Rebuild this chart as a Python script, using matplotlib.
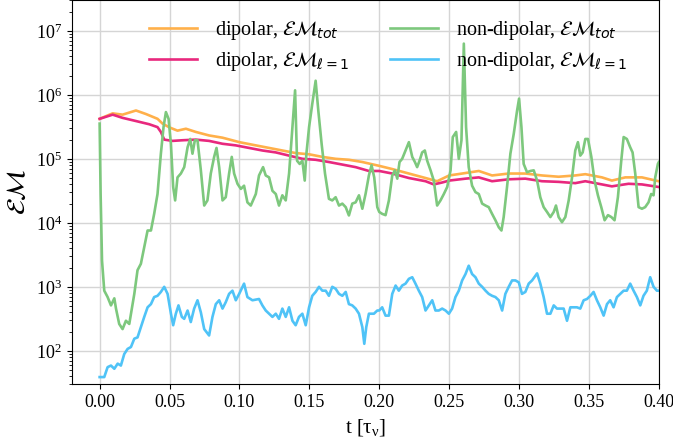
import numpy as np
import matplotlib
matplotlib.use("Agg")
import matplotlib.pyplot as plt

plt.rcParams['font.family'] = ['Liberation Serif', 'DejaVu Serif']
plt.rcParams['mathtext.fontset'] = 'dejavusans'

# ---------------- data ----------------
# dipolar, EM_tot
dip_tot_t = [0.0, 0.0093, 0.0164, 0.026, 0.0331, 0.0414, 0.045, 0.05, 0.0557, 0.0617,
             0.0688, 0.0783, 0.0879, 0.1, 0.1117, 0.1212, 0.1307, 0.1402, 0.15, 0.1593,
             0.1688, 0.1783, 0.1879, 0.2, 0.2093, 0.2212, 0.2331, 0.2414, 0.25, 0.2593,
             0.2712, 0.2807, 0.2926, 0.3045, 0.3164, 0.3283, 0.3402, 0.3474, 0.3593, 0.3664,
             0.376, 0.3879, 0.3998]
dip_tot_log = [5.625, 5.71, 5.69, 5.755, 5.70, 5.625, 5.55, 5.49, 5.44, 5.47,
               5.42, 5.365, 5.33, 5.26, 5.21, 5.17, 5.13, 5.09, 5.07, 5.03,
               5.0, 4.985, 4.95, 4.89, 4.84, 4.77, 4.70, 4.65, 4.74, 4.77,
               4.81, 4.74, 4.77, 4.77, 4.74, 4.72, 4.74, 4.76, 4.71, 4.66,
               4.71, 4.71, 4.65]

# dipolar, EM_l=1
dip_l1_t = [0.0, 0.0093, 0.0164, 0.026, 0.0355, 0.0414, 0.0438, 0.0462, 0.0521, 0.0593,
            0.0688, 0.0783, 0.0879, 0.0974, 0.1069, 0.1164, 0.126, 0.1355, 0.145, 0.1545,
            0.164, 0.1736, 0.1831, 0.1926, 0.2, 0.2093, 0.2212, 0.2331, 0.239, 0.245,
            0.25, 0.2617, 0.2712, 0.2807, 0.2926, 0.3045, 0.3164, 0.3283, 0.3402, 0.3474,
            0.3593, 0.3664, 0.3783, 0.3879, 0.3998]
dip_l1_log = [5.625, 5.69, 5.64, 5.59, 5.54, 5.495, 5.42, 5.30, 5.28, 5.29,
              5.30, 5.28, 5.235, 5.21, 5.17, 5.13, 5.10, 5.05, 5.0, 4.985,
              4.95, 4.91, 4.87, 4.81, 4.81, 4.77, 4.70, 4.65, 4.60, 4.63,
              4.66, 4.69, 4.71, 4.65, 4.68, 4.69, 4.65, 4.64, 4.62, 4.65,
              4.60, 4.57, 4.61, 4.60, 4.56]

# non-dipolar, EM_tot
ndip_tot_t = [0.0, 0.0007, 0.0017, 0.0033, 0.0057, 0.0081, 0.0105, 0.0117, 0.014, 0.0164,
              0.0188, 0.0212, 0.0224, 0.0248, 0.0271, 0.0295, 0.0319, 0.0343, 0.0367, 0.039,
              0.0414, 0.0438, 0.0457, 0.0474, 0.0493, 0.051, 0.0526, 0.054, 0.0557, 0.0581,
              0.0605, 0.0629, 0.0648, 0.0664, 0.0681, 0.07, 0.0724, 0.0748, 0.0771, 0.0795,
              0.0819, 0.0836, 0.0855, 0.0879, 0.0902, 0.0926, 0.0945, 0.0962, 0.0986, 0.101,
              0.1033, 0.1057, 0.1081, 0.1117, 0.114, 0.1169, 0.1188, 0.1212, 0.1236, 0.126,
              0.1283, 0.1307, 0.1331, 0.1355, 0.1379, 0.1398, 0.1412, 0.1431, 0.145, 0.1467,
              0.1479, 0.1498, 0.1521, 0.1545, 0.1564, 0.1588, 0.1612, 0.164, 0.1664, 0.1688,
              0.1712, 0.1736, 0.176, 0.1783, 0.1807, 0.1831, 0.1855, 0.1879, 0.1902, 0.1926,
              0.1945, 0.1964, 0.1986, 0.2,
              0.2021, 0.2045, 0.2069, 0.2093, 0.2112, 0.2129, 0.2145, 0.2164, 0.2188, 0.2212,
              0.2236, 0.2255, 0.2271, 0.2288, 0.2307, 0.2326, 0.2343, 0.2367, 0.239, 0.2414,
              0.2438, 0.2462, 0.2486, 0.251, 0.2526, 0.255, 0.2569, 0.2588, 0.2605, 0.2621,
              0.264, 0.2664, 0.2688, 0.2712, 0.2736, 0.276, 0.2783, 0.2807, 0.2831, 0.2855,
              0.2874, 0.289, 0.2914, 0.2938, 0.2962, 0.2986, 0.3, 0.3017, 0.3033, 0.3057,
              0.3081, 0.3105, 0.3129, 0.3152, 0.3176, 0.32, 0.3224, 0.3248, 0.3264, 0.3283,
              0.3307, 0.3331, 0.3355, 0.3379, 0.3402, 0.3421, 0.3438, 0.3455, 0.3474, 0.3493,
              0.3517, 0.354, 0.3564, 0.3588, 0.3612, 0.3636, 0.366, 0.3683, 0.3707, 0.3731,
              0.3748, 0.3771, 0.3795, 0.3812, 0.3831, 0.3855, 0.3879, 0.3902, 0.3926, 0.3945,
              0.3962, 0.3974, 0.3993, 0.4]
ndip_tot_log = [5.55, 4.45, 3.41, 2.94, 2.84, 2.71, 2.82, 2.66, 2.42, 2.34,
                2.47, 2.42, 2.58, 2.89, 3.26, 3.36, 3.62, 3.88, 3.88, 4.14,
                4.45, 5.08, 5.495, 5.73, 5.625, 5.23, 4.56, 4.35, 4.71, 4.77,
                4.87, 5.18, 5.31, 5.08, 5.29, 5.29, 4.82, 4.27, 4.35, 4.77,
                5.03, 5.17, 4.87, 4.35, 4.40, 4.77, 5.03, 4.77, 4.61, 4.53,
                4.58, 4.32, 4.27, 4.45, 4.74, 4.87, 4.74, 4.71, 4.50, 4.45,
                4.27, 4.43, 4.35, 4.77, 5.50, 6.07, 4.97, 4.92, 4.97, 4.66,
                5.08, 5.495, 5.86, 6.22, 5.755, 5.23, 4.77, 4.375, 4.35, 4.40,
                4.27, 4.30, 4.245, 4.115, 4.30, 4.32, 4.43, 4.22, 4.45, 4.74,
                4.90, 4.71, 4.245, 4.17,
                4.14, 4.12, 4.35, 4.74, 4.82, 4.69, 4.95, 5.0, 5.13, 5.26,
                5.03, 4.95, 4.87, 4.97, 5.10, 5.13, 4.97, 4.82, 4.66, 4.27,
                4.35, 4.45, 4.56, 4.82, 5.34, 5.42, 5.0, 5.29, 6.80, 5.495,
                4.87, 4.58, 4.48, 4.45, 4.30, 4.27, 4.245, 4.14, 4.04, 3.93,
                3.88, 4.09, 4.56, 5.08, 5.39, 5.755, 5.94, 5.495, 4.92, 4.79,
                4.81, 4.82, 4.66, 4.40, 4.245, 4.17, 4.09, 4.17, 4.27, 4.09,
                4.01, 4.09, 4.35, 4.71, 5.13, 5.26, 5.05, 5.10, 5.31, 5.31,
                5.03, 4.66, 4.43, 4.245, 4.04, 4.12, 4.09, 4.04, 4.40, 4.97,
                5.34, 5.31, 5.18, 5.10, 4.77, 4.245, 4.22, 4.245, 4.32, 4.45,
                4.43, 4.71, 4.92, 4.95]

# non-dipolar, EM_l=1
ndip_l1_t = [0.0, 0.0033, 0.0057, 0.0081, 0.0105, 0.0129, 0.0152, 0.0176, 0.02, 0.0224,
             0.0248, 0.0271, 0.0295, 0.0319, 0.0343, 0.0367, 0.039, 0.0414, 0.0438, 0.0462,
             0.0486, 0.051, 0.0526, 0.0545, 0.0564, 0.0588, 0.0605, 0.0629, 0.0652, 0.0676,
             0.07, 0.0724, 0.0748, 0.0783, 0.0807, 0.0831, 0.0855, 0.0879, 0.0902, 0.0926,
             0.095, 0.0974, 0.0998, 0.1033, 0.1057, 0.1093, 0.114, 0.1164, 0.1188, 0.1212,
             0.1236, 0.126, 0.1283, 0.1307, 0.1331, 0.1355, 0.1379, 0.1402, 0.1426, 0.145,
             0.1474, 0.1498, 0.1521, 0.1545, 0.1569, 0.1593, 0.1617, 0.164, 0.1664, 0.1688,
             0.1712, 0.1736, 0.176, 0.1783, 0.1807, 0.1831, 0.1855, 0.1879, 0.1893, 0.1907,
             0.1926, 0.1962, 0.1986,
             0.2, 0.2021, 0.2045, 0.2069, 0.2093, 0.2117, 0.214, 0.2164, 0.2188, 0.2212,
             0.2236, 0.2259, 0.2283, 0.2307, 0.2331, 0.2355, 0.2379, 0.2402, 0.2426, 0.245,
             0.2474, 0.2498, 0.2521, 0.2545, 0.2569, 0.2593, 0.2617, 0.264, 0.2664, 0.2688,
             0.2712, 0.2736, 0.276, 0.2783, 0.2807, 0.2831, 0.2855, 0.2879, 0.2902, 0.2926,
             0.295, 0.2974, 0.2998, 0.3021, 0.3045, 0.3069, 0.3093, 0.3129, 0.3152, 0.3176,
             0.32, 0.3224, 0.3248, 0.3271, 0.3295, 0.3319, 0.3343, 0.3367, 0.339, 0.3414,
             0.3438, 0.3462, 0.3486, 0.351, 0.3533, 0.3557, 0.3581, 0.3605, 0.3629, 0.3652,
             0.3676, 0.37, 0.3724, 0.3748, 0.3771, 0.3795, 0.3819, 0.3843, 0.3867, 0.389,
             0.3914, 0.3938, 0.3962, 0.3986, 0.4]
ndip_l1_log = [1.59, 1.59, 1.745, 1.77, 1.72, 1.80, 1.77, 1.95, 2.03, 2.06,
               2.19, 2.21, 2.37, 2.53, 2.68, 2.73, 2.84, 2.86, 2.92, 3.0,
               2.89, 2.58, 2.40, 2.58, 2.71, 2.53, 2.50, 2.63, 2.45, 2.66,
               2.79, 2.60, 2.34, 2.24, 2.53, 2.73, 2.79, 2.66, 2.76, 2.89,
               2.94, 2.79, 2.89, 3.05, 2.84, 2.79, 2.81, 2.71, 2.63, 2.58,
               2.53, 2.58, 2.50, 2.66, 2.53, 2.68, 2.47, 2.40, 2.53, 2.58,
               2.40, 2.68, 2.86, 2.92, 3.0, 2.94, 2.94, 2.86, 3.0, 2.97,
               2.89, 2.86, 2.92, 2.73, 2.71, 2.66, 2.58, 2.37, 2.11, 2.37,
               2.58, 2.58, 2.63,
               2.63, 2.68, 2.55, 2.55, 2.89, 3.02, 2.94, 3.02, 3.05, 3.125,
               3.15, 3.05, 2.94, 2.84, 2.63, 2.71, 2.79, 2.63, 2.63, 2.66,
               2.63, 2.58, 2.66, 2.84, 2.94, 3.10, 3.20, 3.33, 3.20, 3.15,
               3.05, 3.0, 2.94, 2.89, 2.86, 2.84, 2.79, 2.63, 2.89, 3.0,
               3.10, 3.10, 3.07, 2.89, 2.92, 3.05, 3.10, 3.21, 3.05, 2.84,
               2.58, 2.58, 2.71, 2.66, 2.66, 2.66, 2.47, 2.68, 2.68, 2.68,
               2.66, 2.79, 2.81, 2.86, 2.92, 2.79, 2.68, 2.55, 2.73, 2.79,
               2.68, 2.84, 2.89, 2.94, 2.94, 3.05, 2.94, 2.84, 2.71, 2.86,
               2.94, 3.15, 3.0, 2.94, 2.94]

series_labels = [r'dipolar, $\mathcal{EM}_{tot}$',
                 r'dipolar, $\mathcal{EM}_{\ell=1}$',
                 r'non-dipolar, $\mathcal{EM}_{tot}$',
                 r'non-dipolar, $\mathcal{EM}_{\ell=1}$']
series_colors = ['#FFB04A', '#E8287D', '#7DC87D', '#4FC3F7']

x_ticks = [0.00, 0.05, 0.10, 0.15, 0.20, 0.25, 0.30, 0.35, 0.40]

# ---------------- plot ----------------
fig = plt.figure(figsize=(6.73, 4.45), dpi=100)
ax = fig.add_axes([0.1065, 0.1364, 0.8725, 0.8630])

data = [(dip_tot_t, dip_tot_log), (dip_l1_t, dip_l1_log),
        (ndip_tot_t, ndip_tot_log), (ndip_l1_t, ndip_l1_log)]
lines = []
for (tt, lv), lab, col in zip(data, series_labels, series_colors):
    ln, = ax.plot(np.asarray(tt), 10.0 ** np.asarray(lv), color=col, lw=1.9, label=lab)
    lines.append(ln)

ax.set_yscale('log')
ax.set_xlim(-0.02, 0.40)
ax.set_ylim(30, 3e7)
ax.set_xticks(x_ticks)
ax.set_xticklabels([f'{v:.2f}' for v in x_ticks])
ax.tick_params(axis='both', which='major', labelsize=13)
ax.grid(True, which='major', color='#d5d5d5', lw=1.0)
ax.set_axisbelow(True)

ax.set_xlabel(r't [$\mathregular{\tau_{\nu}}$]', fontsize=15)
ax.set_ylabel(r'$\mathcal{EM}$', fontsize=19)

ax.legend(handles=lines, ncol=2, frameon=False, fontsize=14.5,
          loc='upper left', bbox_to_anchor=(0.10, 0.998),
          handlelength=2.4, handletextpad=0.9, labelspacing=0.38, columnspacing=2.0)

fig.savefig('out.png', dpi=100)
